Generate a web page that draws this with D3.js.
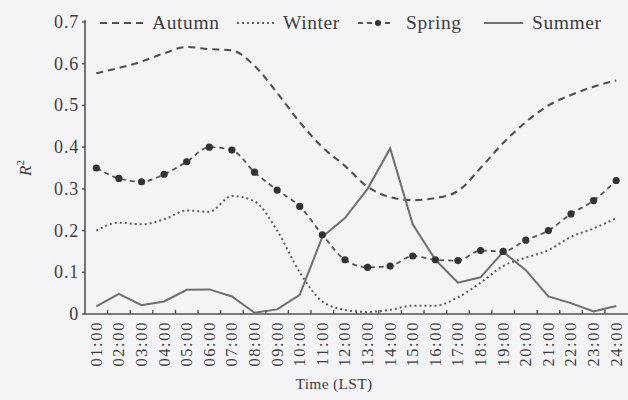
<!DOCTYPE html>
<html>
<head>
<meta charset="utf-8">
<script src="https://cdn.jsdelivr.net/npm/d3@7"></script>
<style>
    body { margin: 0; background: #f4f4f7; }
    svg { display: block; }
    text { font-family: "Liberation Serif", "DejaVu Serif", serif; fill: #3e3e3e; }
</style>
</head>
<body>
<div id="svg-area"></div>
<script>
// hours on the x axis
var hours = ["01:00", "02:00", "03:00", "04:00", "05:00", "06:00", "07:00", "08:00",
    "09:00", "10:00", "11:00", "12:00", "13:00", "14:00", "15:00", "16:00",
    "17:00", "18:00", "19:00", "20:00", "21:00", "22:00", "23:00", "24:00"];

// R2 values
var autumn = [0.577, 0.59, 0.605, 0.625, 0.64, 0.635, 0.632, 0.595, 0.53, 0.46, 0.40, 0.355,
    0.305, 0.28, 0.273, 0.278, 0.295, 0.35, 0.41, 0.46, 0.50, 0.525, 0.545, 0.56];
var winter = [0.20, 0.219, 0.215, 0.227, 0.248, 0.245, 0.283, 0.27, 0.20, 0.10, 0.03, 0.01,
    0.005, 0.01, 0.02, 0.02, 0.04, 0.075, 0.115, 0.135, 0.153, 0.185, 0.205, 0.23];
var spring = [0.35, 0.325, 0.317, 0.335, 0.365, 0.40, 0.393, 0.34, 0.297, 0.258, 0.19, 0.13,
    0.112, 0.115, 0.139, 0.13, 0.128, 0.152, 0.15, 0.177, 0.20, 0.24, 0.272, 0.32];
var summer = [0.018, 0.048, 0.021, 0.03, 0.058, 0.059, 0.042, 0.003, 0.011, 0.046, 0.185, 0.23,
    0.30, 0.397, 0.215, 0.13, 0.075, 0.088, 0.149, 0.105, 0.042, 0.026, 0.006, 0.019];

var yTicks = [0, 0.1, 0.2, 0.3, 0.4, 0.5, 0.6, 0.7];
var seriesNames = ["Autumn", "Winter", "Spring", "Summer"];

var svgWidth = 628;
var svgHeight = 400;

var svg = d3.select("#svg-area")
    .append("svg")
    .attr("width", svgWidth)
    .attr("height", svgHeight)
;

var xScale = d3.scaleBand()
    .domain(hours)
    .range([85, 627.5])
;

var yScale = d3.scaleLinear()
    .domain([0, 0.7])
    .range([314, 22])
;

var xMid = d => xScale(d) + xScale.bandwidth() / 2;

// axes
svg.append("line")
    .attr("x1", 85).attr("x2", 85)
    .attr("y1", yScale(0)).attr("y2", yScale(0.7) - 2)
    .attr("stroke", "#555").attr("stroke-width", 1.6)
;

svg.append("line")
    .attr("x1", 85).attr("x2", svgWidth)
    .attr("y1", yScale(0)).attr("y2", yScale(0))
    .attr("stroke", "#555").attr("stroke-width", 1.6)
;

svg.selectAll(".ytick")
    .data(yTicks)
    .enter()
    .append("line")
    .attr("x1", 82).attr("x2", 85)
    .attr("y1", d => yScale(d)).attr("y2", d => yScale(d))
    .attr("stroke", "#555").attr("stroke-width", 1.5)
;

svg.selectAll(".ylabel")
    .data(yTicks)
    .enter()
    .append("text")
    .attr("x", 79)
    .attr("y", d => yScale(d) + 6)
    .attr("text-anchor", "end")
    .style("font-size", "18px")
    .style("letter-spacing", "0.8px")
    .text(d => d === 0 ? "0" : d3.format(".1f")(d))
;

svg.selectAll(".xtick")
    .data(hours.slice(1))
    .enter()
    .append("line")
    .attr("x1", d => xScale(d)).attr("x2", d => xScale(d))
    .attr("y1", yScale(0)).attr("y2", yScale(0) - 4)
    .attr("stroke", "#555").attr("stroke-width", 1.4)
;

svg.selectAll(".xlabel")
    .data(hours)
    .enter()
    .append("text")
    .attr("transform", d => `translate(${xMid(d) + 5.5}, 321) rotate(-90)`)
    .attr("text-anchor", "end")
    .style("font-size", "16.5px")
    .style("letter-spacing", "1.6px")
    .text(d => d)
;

// axis titles
svg.append("text")
    .attr("x", 334)
    .attr("y", 389)
    .attr("text-anchor", "middle")
    .style("font-size", "15.5px")
    .style("letter-spacing", "0.3px")
    .text("Time (LST)")
;

var rLabel = svg.append("text")
    .attr("transform", "translate(31, 168) rotate(-90)")
    .attr("text-anchor", "middle")
    .style("font-size", "17px")
    .style("font-style", "italic")
;
rLabel.append("tspan").text("R");
rLabel.append("tspan").attr("dy", -7).style("font-size", "11px").style("font-style", "normal").text("2");

// lines
var smooth = d3.line()
    .x((d, i) => xMid(hours[i]))
    .y(d => yScale(d))
    .curve(d3.curveMonotoneX)
;

var straight = d3.line()
    .x((d, i) => xMid(hours[i]))
    .y(d => yScale(d))
;

var styles = {
    Autumn: { dash: "7,5", color: "#505050", width: 2.1 },
    Winter: { dash: "2,3", color: "#5e5e5e", width: 2 },
    Spring: { dash: "5,4", color: "#555", width: 1.8 },
    Summer: { dash: null, color: "#6f6f6f", width: 2 }
};

svg.append("path")
    .attr("d", smooth(autumn))
    .attr("fill", "none")
    .attr("stroke", styles.Autumn.color)
    .attr("stroke-width", styles.Autumn.width)
    .attr("stroke-dasharray", styles.Autumn.dash)
;

svg.append("path")
    .attr("d", smooth(winter))
    .attr("fill", "none")
    .attr("stroke", styles.Winter.color)
    .attr("stroke-width", styles.Winter.width)
    .attr("stroke-dasharray", styles.Winter.dash)
;

svg.append("path")
    .attr("d", straight(summer))
    .attr("fill", "none")
    .attr("stroke", styles.Summer.color)
    .attr("stroke-width", styles.Summer.width)
;

svg.append("path")
    .attr("d", smooth(spring))
    .attr("fill", "none")
    .attr("stroke", styles.Spring.color)
    .attr("stroke-width", styles.Spring.width)
    .attr("stroke-dasharray", styles.Spring.dash)
;

svg.selectAll(".springdot")
    .data(spring)
    .enter()
    .append("circle")
    .attr("cx", (d, i) => xMid(hours[i]))
    .attr("cy", d => yScale(d))
    .attr("r", 3.6)
    .attr("fill", "#333")
;

// legend
var legendX = { Autumn: [100, 143, 152], Winter: [237, 276, 283], Spring: [358, 394, 406], Summer: [484, 523, 532] };

seriesNames.forEach(function(name) {
    var pos = legendX[name];
    var s = styles[name];
    svg.append("line")
        .attr("x1", pos[0]).attr("x2", pos[1])
        .attr("y1", 23).attr("y2", 23)
        .attr("stroke", s.color)
        .attr("stroke-width", s.width)
        .attr("stroke-dasharray", s.dash)
    ;
    if (name == "Spring") {
        svg.append("circle")
            .attr("cx", (pos[0] + pos[1]) / 2 + 2)
            .attr("cy", 23)
            .attr("r", 3)
            .attr("fill", "#333")
        ;
    }
    svg.append("text")
        .attr("x", pos[2])
        .attr("y", 29)
        .style("font-size", "19.5px")
        .style("letter-spacing", "0.6px")
        .text(name)
    ;
});
</script>
</body>
</html>
